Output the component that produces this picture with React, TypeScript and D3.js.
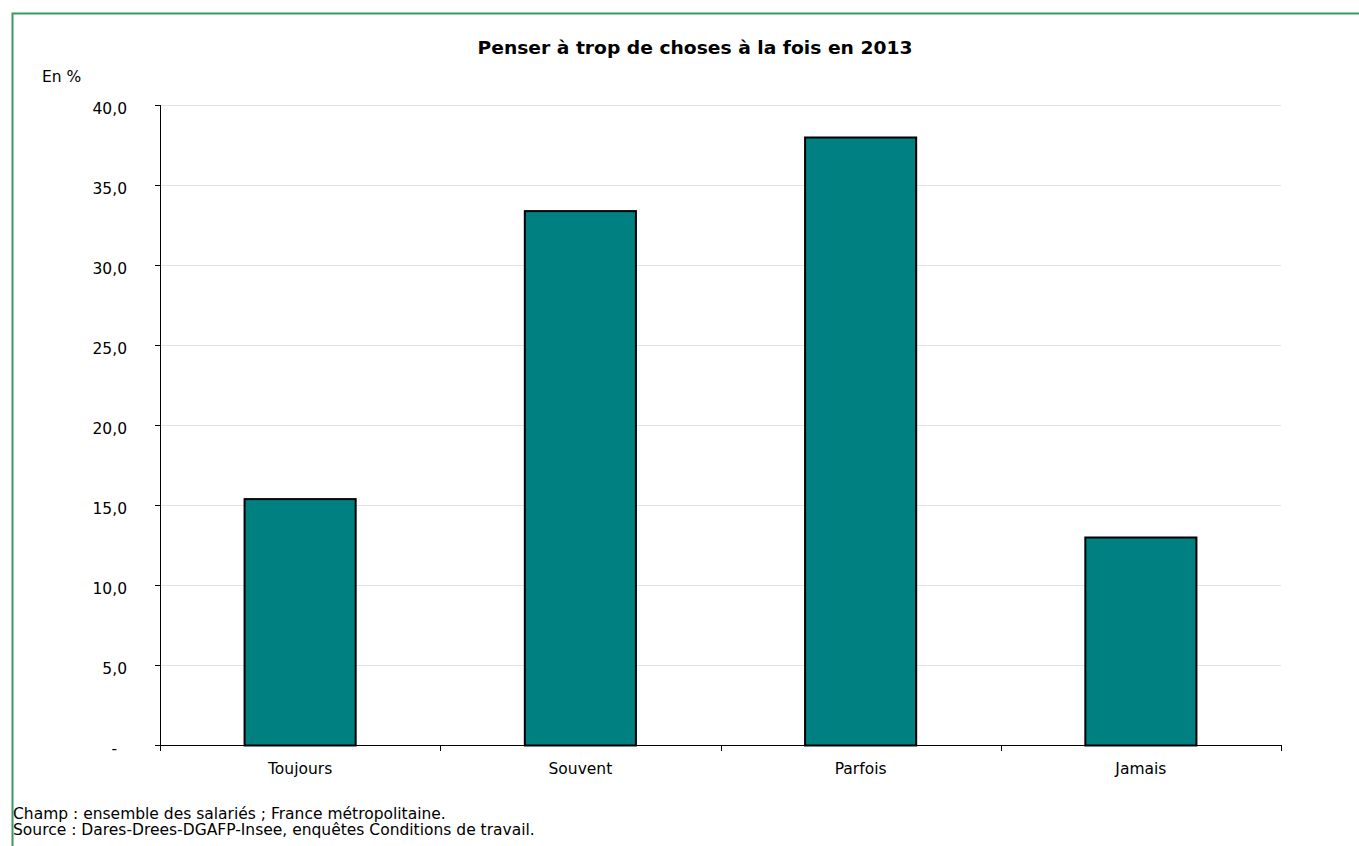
import React from "react";
import * as d3 from "d3";

const categories = ["Toujours", "Souvent", "Parfois", "Jamais"];
const values = [15.4, 33.4, 38.0, 13.0];
const yTicks = [0, 5, 10, 15, 20, 25, 30, 35, 40];
const title = "Penser à trop de choses à la fois en 2013";
const unitLabel = "En %";
const notes = [
  "Champ : ensemble des salariés ; France métropolitaine.",
  "Source : Dares-Drees-DGAFP-Insee, enquêtes Conditions de travail.",
];

const W = 1359;
const H = 846;
const left = 160;
const right = 1281;
const top = 105;
const bottom = 745;
const font = "'DejaVu Sans', Verdana, sans-serif";

export default function App() {
  const x = d3.scaleBand<string>().domain(categories).range([left, right]).paddingInner(0.6).paddingOuter(0.3);
  const y = d3.scaleLinear().domain([0, 40]).range([bottom, top]);
  const step = x.step();
  const fmt = (v: number) => (v === 0 ? "-" : v.toFixed(1).replace(".", ","));
  const boundaries = d3.range(categories.length + 1).map((i) => left + i * step);

  return (
    <svg width={W} height={H} style={{ position: "absolute", left: 0, top: 0, background: "#fff" }} fontFamily={font}>
      <rect x={0} y={0} width={W} height={H} fill="#fff" />
      <path d={`M12.5,${H} V13.5 H${W}`} fill="none" stroke="#3a9a63" strokeWidth={2} />
      <text x={695} y={54} textAnchor="middle" fontWeight="bold" fontSize={18.5} fill="#000" textLength={435} lengthAdjust="spacingAndGlyphs">{title}</text>
      <text x={42} y={82} fontSize={15.5} fill="#000">{unitLabel}</text>
      {yTicks.filter((t) => t > 0).map((t) => (
        <line key={"g" + t} x1={left} x2={right} y1={y(t) + 0.5} y2={y(t) + 0.5} stroke="#e3e3e3" strokeWidth={1} />
      ))}
      {categories.map((c, i) => (
        <rect key={c} x={x(c)! + 0.5} y={y(values[i]) + 0.5} width={x.bandwidth() - 1} height={bottom - y(values[i])}
          fill="#008080" stroke="#000" strokeWidth={2} />
      ))}
      <line x1={left + 0.5} x2={left + 0.5} y1={top} y2={bottom} stroke="#000" />
      {yTicks.map((t) => (
        <g key={"t" + t}>
          <line x1={left - 5} x2={left} y1={y(t) + 0.5} y2={y(t) + 0.5} stroke="#000" />
          <text x={t === 0 ? 117 : 127} y={y(t) + 8.5} textAnchor="end" fontSize={15.5} fill="#000">{fmt(t)}</text>
        </g>
      ))}
      <line x1={left} x2={right} y1={bottom + 0.5} y2={bottom + 0.5} stroke="#000" />
      {boundaries.map((b, i) => (
        <line key={"b" + i} x1={Math.round(b) + 0.5} x2={Math.round(b) + 0.5} y1={bottom} y2={bottom + 6} stroke="#000" />
      ))}
      {categories.map((c) => (
        <text key={"l" + c} x={x(c)! + x.bandwidth() / 2} y={774} textAnchor="middle" fontSize={15.5} fill="#000">{c}</text>
      ))}
      {notes.map((n, i) => (
        <text key={"n" + i} x={13} y={819 + i * 16} fontSize={15.5} fill="#000">{n}</text>
      ))}
    </svg>
  );
}
